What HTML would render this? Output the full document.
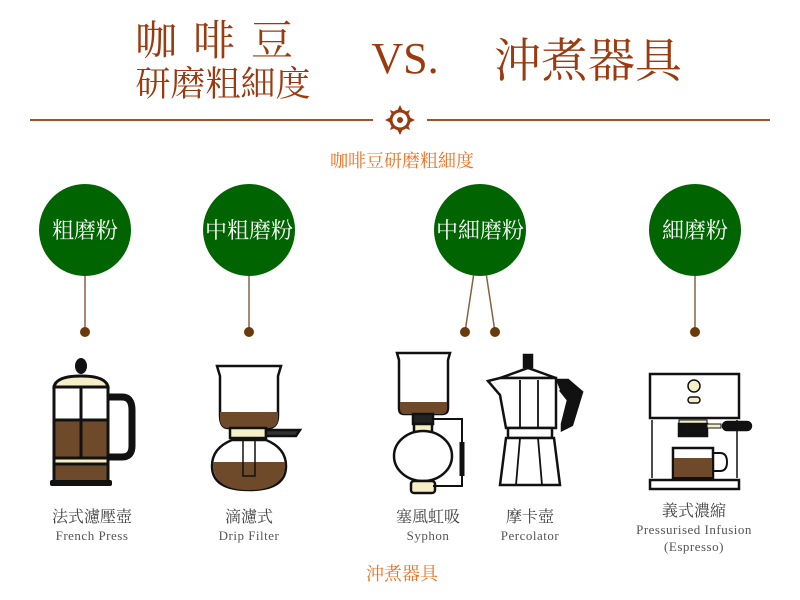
<!DOCTYPE html>
<html><head><meta charset="utf-8"><style>
body{margin:0;background:#fff;}
svg{display:block}
.t{font-family:"Liberation Serif","Noto Serif CJK SC",serif;fill:#9b3a0e}
.c{font-family:"Liberation Serif","Noto Serif CJK SC",serif;fill:#fff;font-size:22px}
.l{font-family:"Liberation Serif","Noto Serif CJK SC",serif;fill:#444;font-size:16px}
.e{font-family:"Liberation Serif",serif;fill:#555;font-size:13px;letter-spacing:0.5px}
.o{font-family:"Liberation Serif","Noto Serif CJK SC",serif;fill:#f07020;font-size:18px}
</style></head><body>
<svg width="800" height="600" viewBox="0 0 800 600" xmlns="http://www.w3.org/2000/svg">
<text class="t" x="222" y="55" font-size="42" text-anchor="middle" letter-spacing="16">咖啡豆</text>
<text class="t" x="223" y="96" font-size="35" text-anchor="middle">研磨粗細度</text>
<text class="t" x="405" y="73" font-size="44" text-anchor="middle">VS.</text>
<text class="t" x="588" y="77" font-size="47" text-anchor="middle">沖煮器具</text>
<line x1="30" y1="120" x2="373" y2="120" stroke="#a0522d" stroke-width="2"/>
<line x1="427" y1="120" x2="770" y2="120" stroke="#a0522d" stroke-width="2"/>
<g transform="translate(400,120)" fill="#9b3a0e">
<circle r="9" fill="none" stroke="#9b3a0e" stroke-width="3"/>
<circle r="3"/>
<path d="M0-15L3-9L-3-9ZM0 15L3 9L-3 9ZM-15 0L-9 3L-9-3ZM15 0L9 3L9-3Z"/>
<path d="M-10-10L-5-8L-8-5ZM10-10L5-8L8-5ZM-10 10L-5 8L-8 5ZM10 10L5 8L8 5Z"/>
</g>
<text class="o" x="402" y="167" text-anchor="middle">咖啡豆研磨粗細度</text>
<g stroke="#8b6040" stroke-width="1.5">
<line x1="85" y1="276" x2="85" y2="332"/><line x1="249" y1="276" x2="249" y2="332"/>
<line x1="475" y1="266" x2="465" y2="332"/><line x1="485" y1="266" x2="495" y2="332"/>
<line x1="695" y1="276" x2="695" y2="332"/>
</g>
<g fill="#006400">
<circle cx="85" cy="230" r="46"/><circle cx="249" cy="230" r="46"/><circle cx="480" cy="230" r="46"/><circle cx="695" cy="230" r="46"/>
</g>
<g fill="#6b3a0a">
<circle cx="85" cy="332" r="5"/><circle cx="249" cy="332" r="5"/><circle cx="465" cy="332" r="5"/><circle cx="495" cy="332" r="5"/><circle cx="695" cy="332" r="5"/>
</g>
<text class="c" x="85" y="238" text-anchor="middle">粗磨粉</text>
<text class="c" x="249" y="238" text-anchor="middle">中粗磨粉</text>
<text class="c" x="480" y="238" text-anchor="middle">中細磨粉</text>
<text class="c" x="695" y="238" text-anchor="middle">細磨粉</text>
<!-- French press -->
<g stroke="#111" stroke-width="3">
<ellipse cx="81" cy="366" rx="6" ry="8" fill="#111" stroke="none"/>
<path d="M54 387Q56 376 81 376Q106 376 108 387Z" fill="#f5efc8"/>
<rect x="54" y="387" width="54" height="36" fill="#fff"/>
<rect x="54" y="420" width="54" height="38" fill="#6e4a2a"/>
<rect x="54" y="458" width="54" height="6" fill="#f5efc8"/>
<rect x="54" y="464" width="54" height="18" fill="#6e4a2a"/>
<line x1="81" y1="387" x2="81" y2="458"/>
<path d="M108 397H122Q132 397 132 410V446Q132 457 122 457H108" fill="none" stroke-width="7"/>
</g>
<rect x="50" y="480" width="62" height="6" rx="2" fill="#111"/>
<!-- Drip -->
<g stroke="#111" stroke-width="2.5">
<path d="M217 366H281L278 376V415Q278 428 268 428H228Q220 428 220 415V376Z" fill="#fff"/>
<path d="M220 412H278V418Q278 428 268 428H228Q220 428 220 418Z" fill="#6e4a2a" stroke="none"/>
<rect x="230" y="428" width="36" height="10" fill="#f5efc8"/>
<path d="M266 430H300L296 436H266Z" fill="#333"/>
<path d="M232 440Q212 448 212 466Q212 490 249 490Q286 490 286 466Q286 448 266 440Z" fill="#fff"/>
<path d="M213 462H285Q286 490 249 490Q212 490 213 462Z" fill="#6e4a2a" stroke="none"/>
<rect x="243" y="440" width="12" height="36" fill="none" stroke-width="1.5"/>
</g>
<!-- Syphon -->
<g stroke="#111" stroke-width="2.5">
<path d="M397 353H450L448 360V408Q448 414 442 414H404Q399 414 399 408V360Z" fill="#fff"/>
<path d="M400 402H447V408Q447 414 442 414H404Q400 414 400 408Z" fill="#6e4a2a" stroke="none"/>
<rect x="413" y="414" width="20" height="10" fill="#222"/>
<rect x="414" y="424" width="18" height="10" fill="#f5efc8"/>
<ellipse cx="423" cy="456" rx="29" ry="25" fill="#fff"/>
<rect x="411" y="481" width="24" height="12" rx="3" fill="#f5efc8"/>
<path d="M433 419H462V486H433" fill="none" stroke-width="2"/>
<line x1="462" y1="442" x2="462" y2="476" stroke-width="5"/>
</g>
<!-- Moka -->
<g stroke="#111" stroke-width="2.5" fill="#fff">
<rect x="524" y="355" width="8" height="12" fill="#111"/>
<path d="M500 378L528 368L556 378Z"/>
<path d="M488 381L500 378H556V428H506L500 395Z"/>
<path d="M556 380H568L582 392L572 425L562 430V424L568 400L560 390" fill="#111"/>
<rect x="508" y="428" width="44" height="10"/>
<path d="M506 438H554L560 485H500Z"/>
<path d="M520 380V428M538 380V428M520 438L516 485M538 438L542 485" fill="none" stroke-width="1.8"/>
</g>
<!-- Espresso -->
<g stroke="#111" stroke-width="2.5" fill="#fff">
<rect x="650" y="374" width="89" height="44"/>
<line x1="652" y1="420" x2="652" y2="478" stroke-width="1.5"/><line x1="737" y1="420" x2="737" y2="478" stroke-width="1.5"/>
<circle cx="694" cy="386" r="6" fill="#f5efc8" stroke-width="1.5"/>
<rect x="688" y="397" width="12" height="6" rx="3" fill="#f5efc8" stroke-width="1.5"/>
<rect x="679" y="420" width="28" height="4" fill="#f5efc8" stroke-width="1"/>
<rect x="679" y="424" width="28" height="12" fill="#111"/>
<rect x="707" y="424" width="14" height="4" fill="#f5efc8" stroke-width="1"/>
<rect x="723" y="422" width="28" height="8" rx="4" fill="#111"/>
<rect x="673" y="448" width="40" height="30" />
<rect x="674" y="458" width="38" height="19" fill="#6e4a2a" stroke="none"/>
<path d="M713 453H720Q727 453 727 462Q727 471 720 471H713" fill="none" stroke-width="2"/>
<rect x="650" y="480" width="89" height="9"/>
</g>
<text class="l" x="92" y="522" text-anchor="middle">法式濾壓壺</text>
<text class="e" x="92" y="540" text-anchor="middle">French Press</text>
<text class="l" x="249" y="522" text-anchor="middle">滴濾式</text>
<text class="e" x="249" y="540" text-anchor="middle">Drip Filter</text>
<text class="l" x="428" y="522" text-anchor="middle">塞風虹吸</text>
<text class="e" x="428" y="540" text-anchor="middle">Syphon</text>
<text class="l" x="530" y="522" text-anchor="middle">摩卡壺</text>
<text class="e" x="530" y="540" text-anchor="middle">Percolator</text>
<text class="l" x="694" y="516" text-anchor="middle">義式濃縮</text>
<text class="e" x="694" y="534" text-anchor="middle">Pressurised Infusion</text>
<text class="e" x="694" y="551" text-anchor="middle">(Espresso)</text>
<text class="o" x="402" y="580" text-anchor="middle">沖煮器具</text>
</svg>
</body></html>
